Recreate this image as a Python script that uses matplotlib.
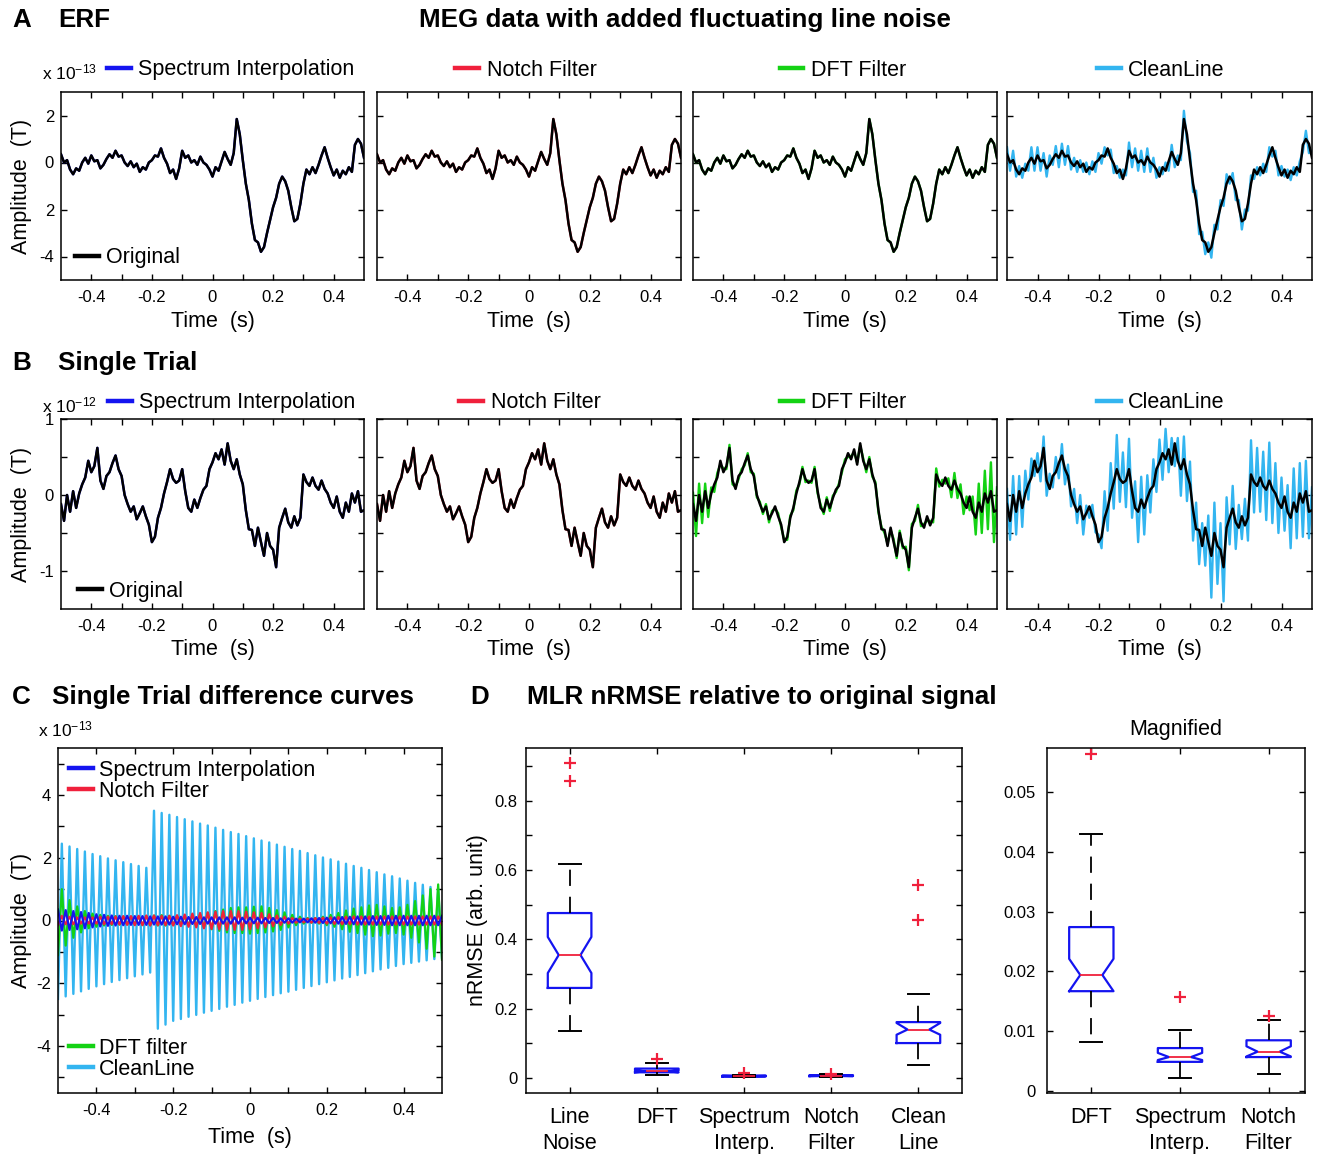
import numpy as np
import matplotlib
matplotlib.use("Agg")
import matplotlib.pyplot as plt

plt.rcParams.update({
    "font.family": ["Liberation Sans", "DejaVu Sans"],
    "mathtext.fontset": "custom",
    "mathtext.rm": "Liberation Sans",
    "mathtext.it": "Liberation Sans:italic",
    "mathtext.bf": "Liberation Sans:bold",
    "mathtext.default": "regular",
})

# ---------------- data ----------------
time_s = np.linspace(-0.5, 0.5, 101)

methods_top = ["Spectrum Interpolation", "Notch Filter", "DFT Filter", "CleanLine"]

# Panel A: ERF (x 1e-13 T)
erf_original = [
    0.35, 0.00, 0.10, -0.30, -0.50, -0.25, -0.35, 0.00, 0.20, -0.05,
    0.30, 0.05, 0.10, -0.25, -0.10, 0.15, 0.35, 0.20, 0.50, 0.25,
    0.30, 0.00, -0.15, 0.05, -0.20, -0.05, -0.40, -0.20, -0.30, 0.00,
    0.10, 0.30, 0.25, 0.60, 0.20, -0.05, -0.45, -0.30, -0.70, -0.25,
    0.50, 0.20, 0.30, 0.00, 0.10, -0.10, 0.25, 0.00, -0.10, -0.30,
    -0.60, -0.20, -0.35, 0.05, 0.45, 0.15, -0.10, 0.40, 1.85, 1.20,
    0.10, -0.90, -1.60, -2.60, -3.30, -3.40, -3.80, -3.60, -3.00, -2.45,
    -1.90, -1.50, -0.90, -0.60, -0.80, -1.20, -1.90, -2.50, -2.40, -1.75,
    -0.90, -0.30, -0.50, -0.20, -0.45, -0.10, 0.30, 0.65, 0.20, -0.20,
    -0.55, -0.30, -0.65, -0.35, -0.50, -0.20, -0.40, 0.75, 1.00, 0.80,
    0.20]
erf_cleanline_resid = [
    0.30, -0.35, 0.40, -0.30, 0.35, -0.40, 0.30, -0.35, 0.45, -0.30,
    0.35, -0.40, 0.30, -0.35, 0.40, -0.25, 0.35, -0.40, 0.30, -0.35,
    0.40, -0.30, 0.35, -0.45, 0.30, -0.35, 0.40, -0.30, 0.35, -0.40,
    0.30, -0.35, 0.40, -0.30, 0.35, -0.40, 0.30, -0.35, 0.40, -0.30,
    0.35, -0.40, 0.30, -0.35, 0.40, -0.30, 0.35, -0.40, 0.30, -0.35,
    0.40, -0.30, 0.35, -0.40, 0.30, -0.35, 0.40, -0.30, 0.35, -0.30,
    0.30, -0.35, 0.40, -0.45, 0.35, -0.50, 0.40, -0.45, 0.35, -0.40,
    0.30, -0.35, 0.40, -0.30, 0.35, -0.40, 0.30, -0.35, 0.40, -0.30,
    0.35, -0.40, 0.30, -0.35, 0.40, -0.30, 0.35, -0.40, 0.30, -0.35,
    0.40, -0.30, 0.35, -0.40, 0.30, -0.35, 0.45, -0.30, 0.35, -0.40,
    0.30]

# Panel B: single trial (x 1e-12 T)
trial_original = [
    -0.12, -0.34, 0.00, -0.22, 0.05, -0.17, 0.02, 0.14, 0.23, 0.45,
    0.30, 0.38, 0.62, 0.19, 0.08, 0.25, 0.30, 0.42, 0.52, 0.34,
    0.25, 0.00, -0.12, -0.22, -0.15, -0.32, -0.24, -0.15, -0.28, -0.39,
    -0.62, -0.55, -0.30, -0.17, 0.02, 0.17, 0.34, 0.21, 0.16, 0.19,
    0.34, 0.05, -0.17, -0.22, -0.06, -0.17, -0.04, 0.07, 0.12, 0.34,
    0.43, 0.55, 0.47, 0.60, 0.40, 0.68, 0.45, 0.34, 0.47, 0.27,
    0.14, -0.20, -0.45, -0.46, -0.67, -0.43, -0.62, -0.80, -0.50, -0.67,
    -0.72, -0.95, -0.43, -0.30, -0.18, -0.36, -0.43, -0.28, -0.40, -0.30,
    0.27, 0.17, 0.12, 0.23, 0.12, 0.07, 0.19, 0.08, 0.02, -0.10,
    -0.17, -0.02, -0.22, -0.30, -0.10, -0.22, 0.02, -0.10, 0.05, -0.22,
    -0.20]
trial_dft_resid = [
    0.15, -0.20, 0.15, -0.15, 0.10, -0.12, 0.08, -0.10, 0.06, -0.05,
    0.05, -0.04, 0.04, -0.05, 0.03, -0.04, 0.04, -0.03, 0.03, -0.04,
    0.03, -0.03, 0.03, -0.03, 0.03, -0.04, 0.03, -0.03, 0.04, -0.03,
    0.03, -0.04, 0.03, -0.03, 0.04, -0.03, 0.03, -0.04, 0.03, -0.03,
    0.03, -0.03, 0.04, -0.03, 0.03, -0.04, 0.03, -0.03, 0.03, -0.04,
    0.04, -0.05, 0.04, -0.04, 0.03, -0.03, 0.03, -0.04, 0.03, -0.03,
    0.03, -0.03, 0.03, -0.04, 0.03, -0.03, 0.04, -0.03, 0.03, -0.03,
    0.04, -0.04, 0.05, -0.04, 0.05, -0.05, 0.05, -0.06, 0.06, -0.06,
    0.08, -0.06, 0.08, -0.08, 0.10, -0.10, 0.10, -0.12, 0.12, -0.15,
    0.15, -0.18, 0.20, -0.22, 0.25, -0.28, 0.30, -0.35, 0.38, -0.40,
    0.30]
trial_cleanline_resid = [
    0.20, -0.25, 0.25, -0.30, 0.20, -0.25, 0.30, -0.20, 0.25, -0.20,
    0.25, -0.20, 0.15, -0.20, 0.20, -0.15, 0.20, -0.20, 0.15, -0.20,
    0.15, -0.15, 0.20, -0.15, 0.15, -0.20, 0.10, -0.15, 0.15, -0.10,
    0.10, -0.15, 0.35, -0.30, 0.40, -0.35, 0.45, -0.30, 0.40, -0.35,
    0.40, -0.35, 0.35, -0.40, 0.30, -0.35, 0.30, -0.30, 0.35, -0.30,
    0.30, -0.35, 0.40, -0.30, 0.35, -0.30, 0.30, -0.35, 0.30, -0.35,
    0.30, -0.40, 0.35, -0.45, 0.30, -0.50, 0.35, -0.55, 0.40, -0.50,
    0.35, -0.45, 0.40, -0.35, 0.30, -0.35, 0.30, -0.30, 0.35, -0.30,
    0.45, -0.40, 0.50, -0.45, 0.45, -0.40, 0.50, -0.45, 0.40, -0.40,
    0.40, -0.45, 0.35, -0.40, 0.45, -0.35, 0.40, -0.45, 0.40, -0.35,
    0.30]

# Panel C: difference curves (x 1e-13 T)
diff_cleanline = [
    -2.50, 2.45, -2.42, 2.36, -2.34, 2.28, -2.26, 2.20, -2.18, 2.12,
    -2.10, 2.05, -2.03, 1.98, -1.96, 1.92, -1.90, 1.86, -1.84, 1.80,
    -1.78, 1.74, -1.72, 1.68, -1.66, 3.50, -3.45, 3.43, -3.32, 3.37,
    -3.20, 3.30, -3.14, 3.23, -3.07, 3.16, -3.01, 3.09, -2.94, 3.03,
    -2.88, 2.96, -2.82, 2.89, -2.75, 2.82, -2.69, 2.76, -2.62, 2.69,
    -2.56, 2.62, -2.50, 2.55, -2.44, 2.49, -2.38, 2.42, -2.32, 2.35,
    -2.27, 2.28, -2.21, 2.22, -2.15, 2.15, -2.09, 2.08, -2.03, 2.01,
    -1.97, 1.95, -1.91, 1.88, -1.85, 1.81, -1.80, 1.74, -1.74, 1.68,
    -1.68, 1.61, -1.62, 1.54, -1.56, 1.47, -1.51, 1.41, -1.45, 1.34,
    -1.39, 1.27, -1.35, 1.20, -1.31, 1.14, -1.27, 1.07, -1.23, 1.00,
    -1.20]
diff_dft = [
    -1.10, 1.00, -0.80, 0.65, -0.55, 0.45, -0.38, 0.30, -0.25, 0.22,
    -0.20, 0.18, -0.16, 0.15, -0.14, 0.14, -0.13, 0.12, -0.12, 0.12,
    -0.12, 0.13, -0.14, 0.14, -0.15, 0.16, -0.16, 0.17, -0.16, 0.15,
    -0.14, 0.13, -0.12, 0.12, -0.14, 0.16, -0.18, 0.20, -0.22, 0.25,
    -0.28, 0.30, -0.33, 0.35, -0.38, 0.40, -0.40, 0.42, -0.40, 0.42,
    -0.42, 0.44, -0.40, 0.45, -0.38, 0.40, -0.35, 0.33, -0.30, 0.26,
    -0.22, 0.18, -0.15, 0.12, -0.10, 0.08, -0.07, 0.08, -0.10, 0.12,
    -0.15, 0.18, -0.20, 0.24, -0.28, 0.32, -0.36, 0.38, -0.40, 0.42,
    -0.45, 0.48, -0.50, 0.50, -0.48, 0.45, -0.42, 0.40, -0.40, 0.42,
    -0.45, 0.50, -0.55, 0.62, -0.70, 0.80, -0.90, 1.00, -1.15, 1.15,
    -1.25]
diff_notch = [
    -0.15, 0.15, -0.12, 0.12, -0.12, 0.10, -0.10, 0.10, -0.10, 0.10,
    -0.10, 0.12, -0.12, 0.12, -0.12, 0.13, -0.13, 0.14, -0.14, 0.14,
    -0.15, 0.15, -0.15, 0.16, -0.16, 0.16, -0.15, 0.15, -0.15, 0.15,
    -0.16, 0.17, -0.18, 0.19, -0.20, 0.22, -0.22, 0.24, -0.25, 0.26,
    -0.27, 0.28, -0.28, 0.30, -0.30, 0.30, -0.30, 0.30, -0.30, 0.28,
    -0.28, 0.26, -0.25, 0.24, -0.22, 0.20, -0.18, 0.16, -0.14, 0.12,
    -0.10, 0.08, -0.07, 0.06, -0.06, 0.06, -0.07, 0.08, -0.08, 0.09,
    -0.10, 0.10, -0.11, 0.11, -0.12, 0.12, -0.12, 0.13, -0.13, 0.13,
    -0.13, 0.13, -0.13, 0.13, -0.13, 0.13, -0.13, 0.13, -0.13, 0.13,
    -0.13, 0.13, -0.13, 0.13, -0.13, 0.13, -0.13, 0.13, -0.13, 0.13,
    -0.13]
diff_spectrum = [
    0.35, -0.32, 0.33, -0.30, 0.30, -0.28, 0.27, -0.25, 0.24, -0.22,
    0.20, -0.19, 0.18, -0.17, 0.16, -0.16, 0.15, -0.15, 0.15, -0.14,
    0.14, -0.14, 0.14, -0.14, 0.13, -0.13, 0.13, -0.13, 0.13, -0.13,
    0.12, -0.12, 0.12, -0.12, 0.11, -0.11, 0.11, -0.11, 0.10, -0.10,
    0.10, -0.10, 0.10, -0.10, 0.10, -0.10, 0.10, -0.10, 0.09, -0.09,
    0.09, -0.09, 0.09, -0.09, 0.08, -0.08, 0.08, -0.08, 0.07, -0.07,
    0.07, -0.07, 0.06, -0.06, 0.06, -0.06, 0.07, -0.07, 0.08, -0.08,
    0.09, -0.09, 0.10, -0.10, 0.11, -0.11, 0.12, -0.12, 0.13, -0.13,
    0.13, -0.13, 0.14, -0.14, 0.14, -0.14, 0.15, -0.15, 0.15, -0.15,
    0.15, -0.15, 0.15, -0.15, 0.15, -0.15, 0.15, -0.15, 0.15, -0.15,
    0.15]

# Panel D: nRMSE box statistics
box_labels = ["Line\nNoise", "DFT", "Spectrum\nInterp.", "Notch\nFilter", "Clean\nLine"]
box_med = [0.355, 0.0194, 0.0057, 0.0066, 0.140]
box_q1 = [0.260, 0.0167, 0.0049, 0.0057, 0.101]
box_q3 = [0.476, 0.0274, 0.0072, 0.0085, 0.1615]
box_whislo = [0.136, 0.0082, 0.0022, 0.0028, 0.0385]
box_whishi = [0.618, 0.0429, 0.0103, 0.0119, 0.243]
box_cilo = [0.303, 0.0167, 0.0052, 0.0058, 0.125]
box_cihi = [0.407, 0.0221, 0.0064, 0.0075, 0.159]
box_fliers = [[0.909, 0.856], [0.0563], [0.0157], [0.0125], [0.558, 0.457]]

# ---------------- style ----------------
BLUE = "#1414f0"
RED = "#f0203c"
GREEN = "#14d214"
CYAN = "#33b5f0"
method_colors = [BLUE, RED, GREEN, CYAN]

W, H = 1320, 1154
fig = plt.figure(figsize=(W / 100, H / 100), dpi=100)
fig.patch.set_facecolor("white")


def fx(px):
    return px / W


def fy(py):
    return 1 - py / H


def add_ax(l, r, t, b):
    return fig.add_axes([l / W, 1 - b / H, (r - l) / W, (b - t) / H])


def style(ax, xpad=7.5, ypad=5, labelsize=12):
    for s in ax.spines.values():
        s.set_linewidth(1.1)
        s.set_color("black")
    ax.tick_params(direction="in", length=4, width=1, top=True, right=True,
                   labelsize=labelsize, colors="black")
    ax.tick_params(axis="x", pad=xpad)
    ax.tick_params(axis="y", pad=ypad)


TITLE_FS = 18.7
LABEL_FS = 15.5
TICK_FS = 12

xt = [-0.4, -0.3, -0.2, -0.1, 0, 0.1, 0.2, 0.3, 0.4]
xtl = ["-0.4", "", "-0.2", "", "0", "", "0.2", "", "0.4"]

xpos = [(61, 364), (377, 681), (693, 997), (1007, 1312)]

# ---------------- Panels A & B ----------------
panel_specs = [
    dict(top=92, bottom=280, orig=erf_original,
         traces=[erf_original, erf_original, erf_original,
                 list(np.add(erf_original, erf_cleanline_resid))],
         ylim=(-5, 3), yt=[-4, -2, 0, 2], ytl=["-4", "2", "0", "2"],
         exp="x 10$^{-13}$", leg_y=70, orig_leg=(75, 258),
         leg_cx=[231, 526, 843, 1161]),
    dict(top=419, bottom=609, orig=trial_original,
         traces=[trial_original, trial_original,
                 list(np.add(trial_original, trial_dft_resid)),
                 list(np.add(trial_original, trial_cleanline_resid))],
         ylim=(-1.5, 1), yt=[-1, -0.5, 0, 0.5, 1], ytl=["-1", "", "0", "", "1"],
         exp="x 10$^{-12}$", leg_y=403, orig_leg=(78, 591),
         leg_cx=[232, 530, 843, 1161]),
]

for spec in panel_specs:
    for k, (l, r) in enumerate(xpos):
        ax = add_ax(l, r, spec["top"], spec["bottom"])
        style(ax)
        col_line, = ax.plot(time_s, spec["traces"][k], color=method_colors[k], lw=1.7)
        orig_line, = ax.plot(time_s, spec["orig"], color="black", lw=1.8)
        ax.set_xlim(-0.5, 0.5)
        ax.set_ylim(*spec["ylim"])
        ax.set_xticks(xt)
        ax.set_xticklabels(xtl)
        ax.set_yticks(spec["yt"])
        if k == 0:
            ax.set_yticklabels(spec["ytl"])
        else:
            ax.set_yticklabels([])
        # method legend above axes
        leg = ax.legend([col_line], [methods_top[k]], loc="center",
                        bbox_to_anchor=(fx(spec["leg_cx"][k]), fy(spec["leg_y"])),
                        bbox_transform=fig.transFigure, frameon=False,
                        fontsize=LABEL_FS, handlelength=1.1, handletextpad=0.35,
                        borderpad=0, borderaxespad=0)
        for ln in leg.get_lines():
            ln.set_linewidth(3.2)
        if k == 0:
            ax.add_artist(leg)
            ox, oy = spec["orig_leg"]
            leg2 = ax.legend([orig_line], ["Original"], loc="center left",
                             bbox_to_anchor=(fx(ox), fy(oy)),
                             bbox_transform=fig.transFigure, frameon=False,
                             fontsize=LABEL_FS, handlelength=1.1, handletextpad=0.35,
                             borderpad=0, borderaxespad=0)
            for ln in leg2.get_lines():
                ln.set_linewidth(3.2)
            fig.text(fx(42), fy(spec["leg_y"] + 2), spec["exp"], fontsize=12.5,
                     ha="left", va="center")
            fig.text(fx(22), fy((spec["top"] + spec["bottom"]) / 2), "Amplitude  (T)",
                     rotation=90, ha="center", va="center", fontsize=LABEL_FS)
        fig.text(fx((l + r) / 2), fy(spec["bottom"] + 41), "Time  (s)",
                 ha="center", va="center", fontsize=LABEL_FS)

# ---------------- Panel C ----------------
axc = add_ax(58, 442, 748, 1093)
style(axc)
lc, = axc.plot(time_s, diff_cleanline, color=CYAN, lw=1.7)
lg, = axc.plot(time_s, diff_dft, color=GREEN, lw=1.6)
lr, = axc.plot(time_s, diff_notch, color=RED, lw=1.6)
lb, = axc.plot(time_s, diff_spectrum, color=BLUE, lw=1.6)
axc.set_xlim(-0.5, 0.5)
axc.set_ylim(-5.5, 5.5)
axc.set_xticks(xt)
axc.set_xticklabels(xtl)
axc.set_yticks([-5, -4, -3, -2, -1, 0, 1, 2, 3, 4, 5])
axc.set_yticklabels(["", "-4", "", "-2", "", "0", "", "2", "", "4", ""])
legc1 = axc.legend([lb, lr], ["Spectrum Interpolation", "Notch Filter"], loc="upper left",
                   bbox_to_anchor=(fx(69), fy(760)), bbox_transform=fig.transFigure,
                   frameon=False, fontsize=LABEL_FS, handlelength=1.1,
                   handletextpad=0.3, borderpad=0, borderaxespad=0, labelspacing=0.0)
for ln in legc1.get_lines():
    ln.set_linewidth(3.2)
axc.add_artist(legc1)
legc2 = axc.legend([lg, lc], ["DFT filter", "CleanLine"], loc="upper left",
                   bbox_to_anchor=(fx(69), fy(1038)), bbox_transform=fig.transFigure,
                   frameon=False, fontsize=LABEL_FS, handlelength=1.1,
                   handletextpad=0.3, borderpad=0, borderaxespad=0, labelspacing=0.0)
for ln in legc2.get_lines():
    ln.set_linewidth(3.2)
fig.text(fx(38), fy(729), "x 10$^{-13}$", fontsize=12.5, ha="left", va="center")
fig.text(fx(22), fy(920), "Amplitude  (T)", rotation=90, ha="center", va="center",
         fontsize=LABEL_FS)
fig.text(fx(250), fy(1138), "Time  (s)", ha="center", va="center", fontsize=LABEL_FS)

# ---------------- Panel D ----------------
def box_stats(idx):
    return [dict(med=box_med[i], q1=box_q1[i], q3=box_q3[i],
                 whislo=box_whislo[i], whishi=box_whishi[i],
                 cilo=box_cilo[i], cihi=box_cihi[i], fliers=box_fliers[i],
                 label=box_labels[i]) for i in idx]


bx_kw = dict(widths=0.5, shownotches=True, showfliers=True, patch_artist=False,
             boxprops=dict(color=BLUE, lw=1.6),
             medianprops=dict(color=RED, lw=1.3),
             whiskerprops=dict(color="black", lw=1.3, linestyle=(0, (9, 6))),
             capprops=dict(color="black", lw=1.4),
             flierprops=dict(marker="+", markeredgecolor=RED, markersize=8,
                             markeredgewidth=1.6, linestyle="none"),
             manage_ticks=False)

axd = add_ax(526, 962, 748, 1093)
style(axd, xpad=10, ypad=6)
axd.bxp(box_stats(range(5)), positions=[1, 2, 3, 4, 5], **bx_kw)
axd.set_xlim(0.5, 5.5)
axd.set_ylim(-0.043, 0.952)
axd.set_xticks([1, 2, 3, 4, 5])
axd.set_xticklabels(box_labels, fontsize=15.5, linespacing=1.3)
axd.set_yticks(np.round(np.arange(0, 0.95, 0.1), 1))
axd.set_yticklabels(["0", "", "0.2", "", "0.4", "", "0.6", "", "0.8", ""])
fig.text(fx(478), fy(920), "nRMSE (arb. unit)", rotation=90, ha="center",
         va="center", fontsize=LABEL_FS)

axm = add_ax(1047, 1305, 748, 1093)
style(axm, xpad=10, ypad=8)
axm.bxp(box_stats([1, 2, 3]), positions=[1, 2, 3], **bx_kw)
axm.set_xlim(0.5, 3.41)
axm.set_ylim(-0.0003, 0.0573)
axm.set_xticks([1, 2, 3])
axm.set_xticklabels([box_labels[1], box_labels[2], box_labels[3]], fontsize=15.5,
                    linespacing=1.3)
axm.set_yticks([0, 0.01, 0.02, 0.03, 0.04, 0.05])
axm.set_yticklabels(["0", "0.01", "0.02", "0.03", "0.04", "0.05"])
fig.text(fx(1176), fy(729), "Magnified", ha="center", va="center", fontsize=15.5)

# ---------------- titles ----------------
tkw = dict(fontsize=TITLE_FS, fontweight="bold", va="center")
fig.text(fx(12), fy(20), "A", ha="left", **tkw)
fig.text(fx(58), fy(20), "ERF", ha="left", **tkw)
fig.text(fx(685), fy(20), "MEG data with added fluctuating line noise", ha="center", **tkw)
fig.text(fx(12), fy(363), "B", ha="left", **tkw)
fig.text(fx(58), fy(363), "Single Trial", ha="left", **tkw)
fig.text(fx(12), fy(697), "C", ha="left", **tkw)
fig.text(fx(52), fy(697), "Single Trial difference curves", ha="left", **tkw)
fig.text(fx(470), fy(697), "D", ha="left", **tkw)
fig.text(fx(527), fy(697), "MLR nRMSE relative to original signal", ha="left", **tkw)

fig.savefig("out.png", dpi=100, facecolor="white")
